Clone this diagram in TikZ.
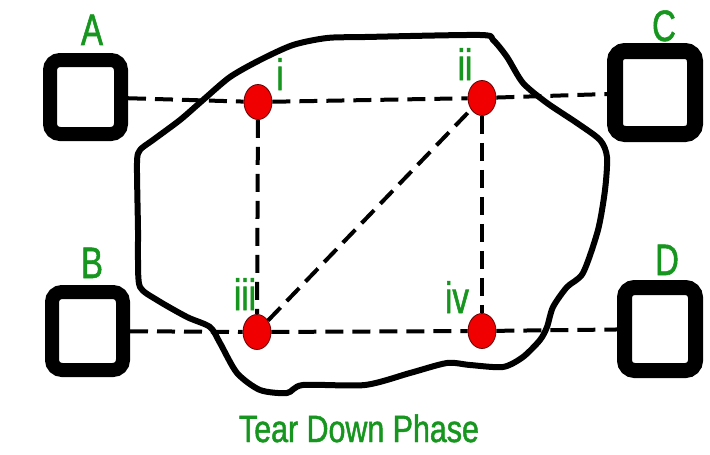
\documentclass[tikz,border=0pt]{standalone}
\usepackage{fontspec}
\setmainfont{Liberation Sans}
\newfontfamily\narrowsans[FakeStretch=0.75, FakeBold=1.2]{Liberation Sans}
\newfontfamily\widersans[FakeStretch=0.8, FakeBold=1.2]{Liberation Sans}
\usetikzlibrary{shapes.geometric}
\definecolor{lblgreen}{RGB}{22,150,30}
\definecolor{dotred}{RGB}{240,0,0}
\begin{document}
\begin{tikzpicture}[x=1pt,y=-1pt,
  terminal/.style={draw=black, fill=white, rectangle, rounded corners=10pt, inner sep=0pt},
  router/.style={ellipse, fill=dotred, draw=black!60!red, line width=0.8pt,
    minimum width=28pt, minimum height=35pt, inner sep=0pt},
  link/.style={line width=4pt, dash pattern=on 18pt off 9pt},
  tag/.style={text=lblgreen, font=\narrowsans\fontsize{44}{44}\selectfont, anchor=base, inner sep=0pt},
  caption/.style={text=lblgreen, font=\widersans\fontsize{38}{38}\selectfont, anchor=base, inner sep=0pt},
  region/.style={line width=6pt, line join=round}
]
\fill[white] (0,0) rectangle (710,455);
\useasboundingbox (0,0) rectangle (710,455);

% network cloud outline
\draw[region] plot[smooth cycle, tension=0.45] coordinates {
  (365,37) (480,35) (493,40) (507,57) (523,83) (547,103) (577,123) (600,140)
  (607,157) (605,190) (598,230) (583,273) (567,287) (553,307) (547,327)
  (540,340) (523,357) (503,367) (470,365) (447,363) (410,373) (365,385)
  (303,385) (287,393) (260,390) (237,373) (220,343) (210,327) (187,317)
  (157,300) (140,287) (138,260) (138,230) (137,163) (140,150) (153,140)
  (180,120) (203,100) (230,77) (260,60) (293,45) (327,38)};

% end hosts
\node[terminal, line width=14pt, minimum width=71pt, minimum height=74pt] (A) at (85.5,97) {};
\node[terminal, line width=14pt, minimum width=71pt, minimum height=78pt] (B) at (87.5,331) {};
\node[terminal, line width=16pt, minimum width=80pt, minimum height=83pt] (C) at (655,92.5) {};
\node[terminal, line width=15pt, minimum width=71pt, minimum height=83pt] (D) at (660,329) {};

% routers
\node[router] (r1) at (258,102) {};
\node[router] (r2) at (482,98) {};
\node[router] (r3) at (257,332) {};
\node[router] (r4) at (482,331) {};

% links
\draw[link] (A) -- (r1);
\draw[link] (r1) -- (r2);
\draw[link] (r2) -- (C);
\draw[link] (r1) -- (r3);
\draw[link] (r2) -- (r4);
\draw[link] (r3) -- (r2);
\draw[link] (r3) -- (r4);
\draw[link] (B) -- (r3);
\draw[link] (r4) -- (D);

% labels
\node[tag] (lA) at (92,45) {A};
\node[tag] (lB) at (92,278) {B};
\node[tag] (lC) at (664,41) {C};
\node[tag] (lD) at (667,275) {D};
\node[tag] (l1) at (280,90) {i};
\node[tag] (l2) at (465,80) {ii};
\node[tag] (l3) at (245,310) {iii};
\node[tag] (l4) at (457,313) {iv};
\node[caption] (title) at (359,442) {Tear Down Phase};
\end{tikzpicture}
\end{document}
